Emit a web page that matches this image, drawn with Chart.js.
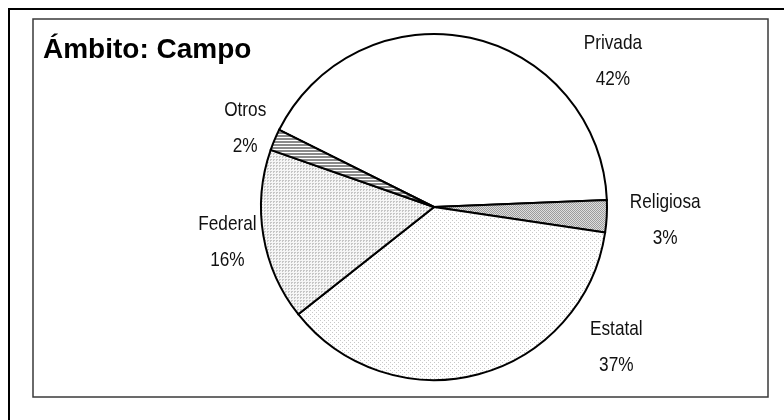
<!DOCTYPE html>
<html>
<head>
<meta charset="utf-8">
<script src="https://cdn.jsdelivr.net/npm/chart.js@4.4.1/dist/chart.umd.min.js"></script>
<style>
  html, body { margin: 0; padding: 0; background: #fff; }
  #wrap { width: 784px; height: 420px; position: relative; }
</style>
</head>
<body>
<div id="wrap"><canvas id="pie" width="784" height="420"></canvas></div>
<script>
const title = "Ámbito: Campo";
const categories = ["Privada", "Religiosa", "Estatal", "Federal", "Otros"];
const shares = [42, 3, 37, 16, 2];
const pctLabels = ["42%", "3%", "37%", "16%", "2%"];

const LABEL_FONT = '21px "Liberation Sans", Arial, sans-serif';
const NARROW = 0.82; // no Arial Narrow installed, squeeze the regular face instead

// small tiled fills, like the old office hatch patterns
function makePattern(w, h, bg, fg, dots) {
  const c = document.createElement("canvas");
  c.width = w; c.height = h;
  const g = c.getContext("2d");
  g.fillStyle = bg;
  g.fillRect(0, 0, w, h);
  g.fillStyle = fg;
  dots.forEach(([x, y]) => g.fillRect(x, y, 1, 1));
  return g.createPattern(c, "repeat");
}

const ctx = document.getElementById("pie").getContext("2d");
const fills = [
  "#ffffff",
  makePattern(2, 2, "#dedede", "#9c9c9c", [[0, 0], [1, 1]]),
  makePattern(4, 4, "#ffffff", "#c8c8c8", [[0, 0], [2, 2]]),
  makePattern(3, 3, "#f6f6f6", "#c6c6c6", [[0, 0], [1, 0], [0, 1]]),
  makePattern(1, 3, "#ffffff", "#8a8a8a", [[0, 0], [0, 1]])
];

function narrowText(c, text, x, y) {
  c.save();
  c.translate(x, y);
  c.scale(NARROW, 1);
  c.fillText(text, 0, 0);
  c.restore();
}

const frame = {
  id: "frame",
  beforeDraw(chart) {
    const c = chart.ctx;
    c.save();
    c.fillStyle = "#fff";
    c.fillRect(0, 0, chart.width, chart.height);
    // outer border (runs off the right and bottom)
    c.strokeStyle = "#000";
    c.lineWidth = 2;
    c.strokeRect(9, 9, 800, 430);
    // inner plot box
    c.strokeStyle = "#3a3a3a";
    c.lineWidth = 1.5;
    c.strokeRect(33, 19, 735, 378);
    c.restore();
  },
  afterDraw(chart) {
    const c = chart.ctx;
    c.save();
    c.fillStyle = "#000";
    c.font = 'bold 28px "Liberation Sans", Arial, sans-serif';
    c.textBaseline = "alphabetic";
    c.textAlign = "left";
    c.fillText(title, 43, 58);

    c.font = LABEL_FONT;
    c.fillStyle = "#111";
    c.textAlign = "center";
    c.textBaseline = "middle";
    const arcs = chart.getDatasetMeta(0).data;
    const yMin = 60, yMax = 346, hh = 22;
    arcs.forEach((arc, i) => {
      const { x: cx, y: cy, outerRadius: r, startAngle, endAngle } = arc.getProps(["x", "y", "outerRadius", "startAngle", "endAngle"], true);
      const hw = NARROW * Math.max(c.measureText(categories[i]).width, c.measureText(pctLabels[i]).width) / 2;
      let a = (startAngle + endAngle) / 2;
      let d, lx, ly;
      for (let k = 0; k < 4; k++) {
        const side = Math.cos(a) >= 0 ? 1 : -1;
        const gap = side > 0 ? 22 : 4;
        d = r + gap + hw * Math.abs(Math.cos(a)) + hh * Math.abs(Math.sin(a));
        lx = cx + d * Math.cos(a);
        ly = cy + d * Math.sin(a);
        if (ly < yMin || ly > yMax) {
          ly = Math.min(Math.max(ly, yMin), yMax);
          const dy = ly - cy;
          lx = cx + side * Math.sqrt(Math.max(d * d - dy * dy, 0));
          a = Math.atan2(dy, lx - cx);
        } else break;
      }
      narrowText(c, categories[i], lx, ly - 17);
      narrowText(c, pctLabels[i], lx, ly + 19);
    });
    c.restore();
  }
};

new Chart(ctx, {
  type: "pie",
  data: {
    labels: categories,
    datasets: [{
      data: shares,
      backgroundColor: fills,
      borderColor: "#000",
      borderWidth: 2,
      borderJoinStyle: "miter"
    }]
  },
  options: {
    responsive: false,
    animation: false,
    rotation: -63.5,
    layout: { padding: { left: 260, right: 176, top: 33, bottom: 39 } },
    plugins: {
      legend: { display: false },
      tooltip: { enabled: false },
      title: { display: false }
    }
  },
  plugins: [frame]
});
</script>
</body>
</html>
